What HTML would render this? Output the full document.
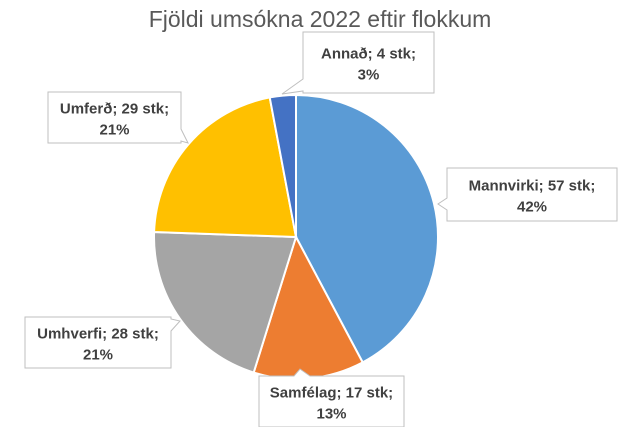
<!DOCTYPE html>
<html><head><meta charset="utf-8"><style>
body{margin:0;background:#fff}
svg{display:block;font-family:"Liberation Sans",sans-serif}
</style></head><body>
<svg width="640" height="427" viewBox="0 0 640 427">
<text x="320" y="27" text-anchor="middle" font-size="23" fill="#595959">Fjöldi umsókna 2022 eftir flokkum</text>
<g id="slices"></g>
<g id="labels"></g>
</svg>
<script>
const categories=["Mannvirki","Samfélag","Umhverfi","Umferð","Annað"];
const values=[57,17,28,29,4];
const percents=["42%","13%","21%","21%","3%"];
const colors=["#5b9bd5","#ed7d31","#a5a5a5","#ffc000","#4472c4"];
const cx=296,cy=237,r=142;
const NS="http://www.w3.org/2000/svg";
const total=values.reduce((a,b)=>a+b,0);
const sg=document.getElementById('slices');
let a0=0;
function pt(a,rr){return [cx+rr*Math.sin(a),cy-rr*Math.cos(a)];}
values.forEach((v,i)=>{
  const a1=a0+v/total*2*Math.PI;
  const p0=pt(a0,r),p1=pt(a1,r);
  const large=(a1-a0)>Math.PI?1:0;
  const p=document.createElementNS(NS,'path');
  p.setAttribute('d',`M${cx},${cy}L${p0[0]},${p0[1]}A${r},${r} 0 ${large} 1 ${p1[0]},${p1[1]}Z`);
  p.setAttribute('fill',colors[i]);p.setAttribute('stroke','#fff');p.setAttribute('stroke-width','2');
  
  
  sg.appendChild(p);
  a0=a1;
});
// callout boxes: [x,y,w,h, tailX,tailY, tail base side]
const boxes=[
 [447,168,170,53,438,204,'l'],
 [259,376,145,51,300,369,'t'],
 [25,317,146,51,180,321,'r'],
 [48,92,133,51,188,143,'r'],
 [303,32,131,61,282,94,'l']
];
const lg=document.getElementById('labels');
boxes.forEach((b,i)=>{
  const [x,y,w,h,tx,ty,side]=b;
  const g=document.createElementNS(NS,'g');
  
  
  let d;
  if(side==='l'){const by=Math.min(y+h-8,Math.max(y+8,ty));d=`M${x},${y}H${x+w}V${y+h}H${x}V${by+6}L${tx},${ty}L${x},${by-6}Z`;}
  else if(side==='r'){const by=Math.min(y+h-8,Math.max(y+8,ty));d=`M${x},${y}H${x+w}V${by-6}L${tx},${ty}L${x+w},${by+6}V${y+h}H${x}Z`;}
  else {d=`M${x},${y}H${tx-6}L${tx},${ty}L${tx+10},${y}H${x+w}V${y+h}H${x}Z`;}
  const p=document.createElementNS(NS,'path');
  p.setAttribute('d',d);p.setAttribute('fill','#fff');p.setAttribute('stroke','#bfbfbf');p.setAttribute('stroke-width','1');
  g.appendChild(p);
  const t1=document.createElementNS(NS,'text');
  t1.setAttribute('x',x+w/2);t1.setAttribute('y',y+h/2-4);
  t1.setAttribute('text-anchor','middle');t1.setAttribute('font-size','15');t1.setAttribute('font-weight','bold');t1.setAttribute('fill','#404040');
  t1.textContent=categories[i]+'; '+values[i]+' stk;';
  g.appendChild(t1);
  const t2=document.createElementNS(NS,'text');
  t2.setAttribute('x',x+w/2);t2.setAttribute('y',y+h/2+17);
  t2.setAttribute('text-anchor','middle');t2.setAttribute('font-size','15');t2.setAttribute('font-weight','bold');t2.setAttribute('fill','#404040');
  t2.textContent=percents[i];
  g.appendChild(t2);
  lg.appendChild(g);
});
</script>
</body></html>
